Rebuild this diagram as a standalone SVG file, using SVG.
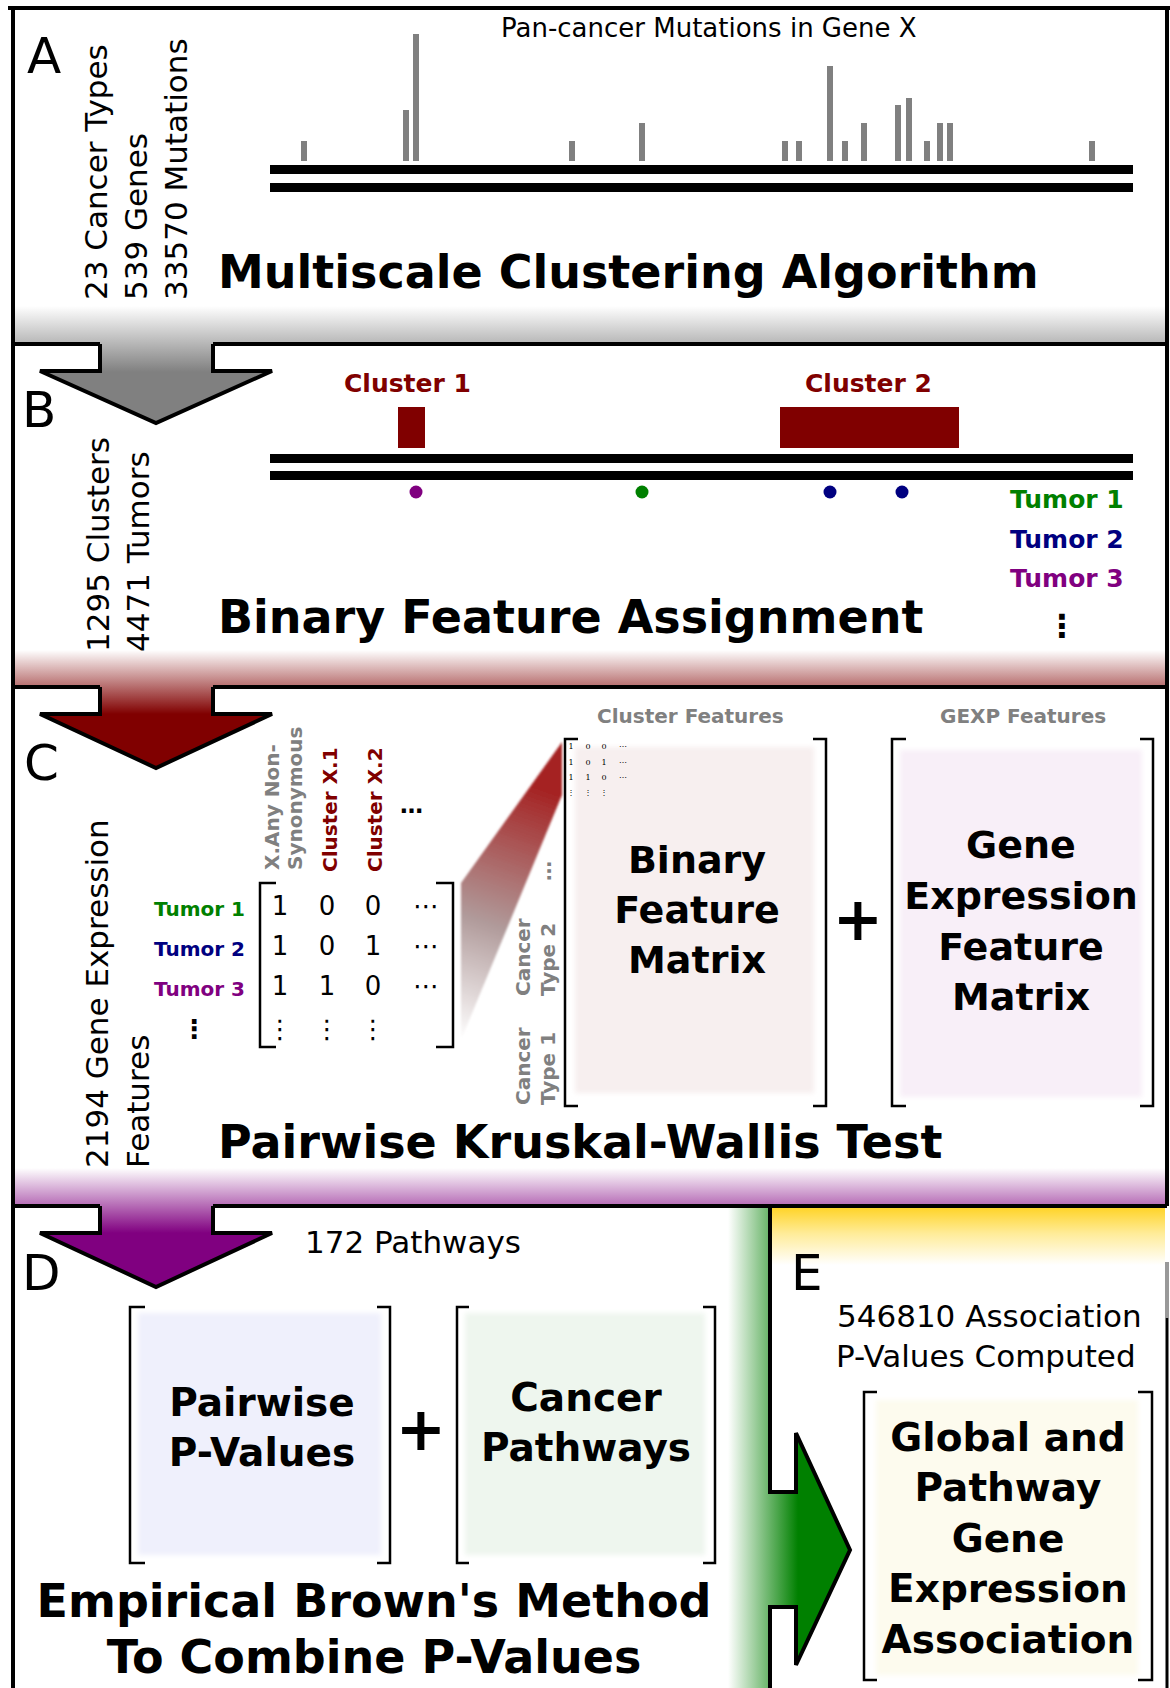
<svg xmlns="http://www.w3.org/2000/svg" width="1170" height="1688" viewBox="0 0 1170 1688">
<defs>
  <linearGradient id="gA" gradientUnits="userSpaceOnUse" x1="0" y1="306" x2="0" y2="372"><stop offset="0" stop-color="#ffffff"/><stop offset="1" stop-color="#808080"/></linearGradient>
  <linearGradient id="gB" gradientUnits="userSpaceOnUse" x1="0" y1="650" x2="0" y2="714"><stop offset="0" stop-color="#ffffff"/><stop offset="1" stop-color="#800000"/></linearGradient>
  <linearGradient id="gC" gradientUnits="userSpaceOnUse" x1="0" y1="1168" x2="0" y2="1233"><stop offset="0" stop-color="#ffffff"/><stop offset="1" stop-color="#800080"/></linearGradient>
  <linearGradient id="gD" gradientUnits="userSpaceOnUse" x1="728" y1="0" x2="798" y2="0"><stop offset="0" stop-color="#ffffff"/><stop offset="1" stop-color="#008000"/></linearGradient>
  <linearGradient id="gE" gradientUnits="userSpaceOnUse" x1="0" y1="1208" x2="0" y2="1265"><stop offset="0" stop-color="#ffd42a"/><stop offset="0.45" stop-color="#ffec99"/><stop offset="1" stop-color="#ffffff"/></linearGradient>
  <linearGradient id="gW" gradientUnits="userSpaceOnUse" x1="461" y1="1040" x2="548" y2="790"><stop offset="0" stop-color="#ffffff"/><stop offset="0.45" stop-color="#b09a9a"/><stop offset="1" stop-color="#a52222"/></linearGradient>
  <filter id="soft" x="-5%" y="-5%" width="110%" height="110%"><feGaussianBlur stdDeviation="2.5"/></filter>
  <filter id="soft1" x="-5%" y="-5%" width="110%" height="110%"><feGaussianBlur stdDeviation="1.2"/></filter>
</defs>
<style>
  text{font-family:'DejaVu Sans',Verdana,sans-serif;fill:#000}
  .b{font-weight:bold}
  .lbl{font-size:50px}
  .vt{font-size:31px}
  .ttl{font-size:46px;font-weight:bold}
  .box{font-size:38px;font-weight:bold;text-anchor:middle}
  .box39{font-size:39px;font-weight:bold;text-anchor:middle}
  .hdr{font-size:20px;font-weight:bold}
  .mx{font-size:26px;text-anchor:middle}
  .tiny{font-family:'DejaVu Serif','Liberation Serif',serif;font-size:8px;text-anchor:middle}
  .plus{font-size:60px;font-weight:bold;text-anchor:middle}
  .frame{stroke:#000;stroke-width:4;fill:none}
  .arr{stroke:#000;stroke-width:4;fill:none;stroke-linejoin:miter}
  .br{stroke:#000;stroke-width:2.5;fill:none}
  .gray{fill:#808080}
  .red{fill:#800000}
  .grn{fill:#008000}
  .blu{fill:#000080}
  .pur{fill:#800080}
  .bar{fill:#808080}
  .gene{fill:#000}
</style>
<rect x="0" y="0" width="1170" height="1688" fill="#ffffff"/>

<!-- gradient bands -->
<g id="bands">
  <rect x="15" y="300" width="1150" height="44" fill="url(#gA)"/>
  <rect x="15" y="645" width="1150" height="42" fill="url(#gB)"/>
  <rect x="15" y="1160" width="1150" height="46" fill="url(#gC)"/>
  <rect x="720" y="1208" width="50" height="480" fill="url(#gD)"/>
  <rect x="772" y="1208" width="393" height="60" fill="url(#gE)"/>
</g>

<!-- frame -->
<g id="frame">
  <path class="frame" d="M8,8 H1170 M13,8 V1688 M1167,8 V1206"/>
  <path class="frame" d="M13,344 H100 M213,344 H1167 M13,687 H100 M213,687 H1167 M13,1206 H100 M213,1206 H1167"/>
  <path d="M1167,1262 V1318" stroke="#999" stroke-width="4"/>
  <path d="M1167,1318 V1688" stroke="#000" stroke-width="3"/>
</g>

<!-- Panel A -->
<g id="panelA">
  <text class="lbl" x="27" y="73">A</text>
  <text class="vt" transform="translate(107,300) rotate(-90)">23 Cancer Types</text>
  <text class="vt" transform="translate(147,300) rotate(-90)">539 Genes</text>
  <text class="vt" transform="translate(187,300) rotate(-90)">33570 Mutations</text>
  <text x="501" y="37" font-size="26">Pan-cancer Mutations in Gene X</text>
  <g class="bar">
    <rect x="301" y="141" width="6" height="20"/>
    <rect x="403" y="110" width="6" height="51"/>
    <rect x="413" y="34" width="6" height="127"/>
    <rect x="569" y="141" width="6" height="20"/>
    <rect x="639" y="123" width="6" height="38"/>
    <rect x="782" y="141" width="6" height="20"/>
    <rect x="796" y="141" width="6" height="20"/>
    <rect x="827" y="66" width="6" height="95"/>
    <rect x="842" y="141" width="6" height="20"/>
    <rect x="861" y="123" width="6" height="38"/>
    <rect x="895" y="105" width="6" height="56"/>
    <rect x="906" y="98" width="6" height="63"/>
    <rect x="924" y="141" width="6" height="20"/>
    <rect x="937" y="123" width="6" height="38"/>
    <rect x="947" y="123" width="6" height="38"/>
    <rect x="1089" y="141" width="6" height="20"/>
  </g>
  <rect class="gene" x="270" y="165" width="863" height="9"/>
  <rect class="gene" x="270" y="183" width="863" height="9"/>
  <text class="ttl" x="218" y="288">Multiscale Clustering Algorithm</text>
</g>

<!-- Panel B -->
<g id="panelB">
  <text class="lbl" x="22" y="427">B</text>
  <text class="vt" transform="translate(109,652) rotate(-90)">1295 Clusters</text>
  <text class="vt" transform="translate(149,652) rotate(-90)">4471 Tumors</text>
  <text class="b red" x="344" y="392" font-size="25">Cluster 1</text>
  <text class="b red" x="805" y="392" font-size="25">Cluster 2</text>
  <rect class="red" x="398" y="407" width="27" height="41"/>
  <rect class="red" x="780" y="407" width="179" height="41"/>
  <rect class="gene" x="270" y="454" width="863" height="9"/>
  <rect class="gene" x="270" y="471" width="863" height="9"/>
  <circle class="pur" cx="416" cy="492" r="6.5"/>
  <circle class="grn" cx="642" cy="492" r="6.5"/>
  <circle class="blu" cx="830" cy="492" r="6.5"/>
  <circle class="blu" cx="902" cy="492" r="6.5"/>
  <text class="b grn" x="1010" y="508" font-size="25">Tumor 1</text>
  <text class="b blu" x="1010" y="548" font-size="25">Tumor 2</text>
  <text class="b pur" x="1010" y="587" font-size="25">Tumor 3</text>
  <text class="b" x="1062" y="637" font-size="32" text-anchor="middle">⋮</text>
  <text class="ttl" x="218" y="633">Binary Feature Assignment</text>
</g>

<!-- Panel C -->
<g id="panelC">
  <text class="lbl" x="24" y="780">C</text>
  <text class="vt" transform="translate(108,1168) rotate(-90)">2194 Gene Expression</text>
  <text class="vt" transform="translate(149,1168) rotate(-90)">Features</text>
  <text class="hdr gray" transform="translate(279,870) rotate(-90)">X.Any Non-</text>
  <text class="hdr gray" transform="translate(302,870) rotate(-90)">Synonymous</text>
  <text class="hdr red" transform="translate(337,872) rotate(-90)">Cluster X.1</text>
  <text class="hdr red" transform="translate(382,872) rotate(-90)">Cluster X.2</text>
  <text class="b" x="400" y="813" font-size="23">…</text>
  <text class="hdr grn" x="154" y="916">Tumor 1</text>
  <text class="hdr blu" x="154" y="956">Tumor 2</text>
  <text class="hdr pur" x="154" y="996">Tumor 3</text>
  <text class="b" x="194" y="1038" font-size="26" text-anchor="middle">⋮</text>
  <path class="br" d="M276,883 H260 V1047 H276 M436,883 H453 V1047 H436"/>
  <g class="mx">
    <text class="mx" x="280" y="915">1</text><text class="mx" x="327" y="915">0</text><text class="mx" x="373" y="915">0</text><text class="mx" x="426" y="915">⋯</text>
    <text class="mx" x="280" y="955">1</text><text class="mx" x="327" y="955">0</text><text class="mx" x="373" y="955">1</text><text class="mx" x="426" y="955">⋯</text>
    <text class="mx" x="280" y="995">1</text><text class="mx" x="327" y="995">1</text><text class="mx" x="373" y="995">0</text><text class="mx" x="426" y="995">⋯</text>
    <text class="mx" x="280" y="1038" font-size="30">⋮</text><text class="mx" x="327" y="1038" font-size="30">⋮</text><text class="mx" x="373" y="1038" font-size="30">⋮</text>
  </g>
  <polygon points="461,883 562,742 562,795 461,1040" fill="url(#gW)" filter="url(#soft1)"/>
  <text class="hdr gray" x="597" y="723">Cluster Features</text>
  <text class="hdr gray" x="940" y="723">GEXP Features</text>
  <rect x="575" y="747" width="239" height="346" fill="#f7efef" filter="url(#soft)"/>
  <rect x="900" y="750" width="242" height="347" fill="#f8eff8" filter="url(#soft)"/>
  <path class="br" d="M578,739 H565 V1106 H578 M813,739 H826 V1106 H813"/>
  <path class="br" d="M906,739 H892 V1106 H906 M1140,739 H1153 V1106 H1140"/>
  <g>
    <text class="tiny" x="571" y="749">1</text><text class="tiny" x="588" y="749">0</text><text class="tiny" x="604" y="749">0</text><text class="tiny" x="623" y="749">⋯</text>
    <text class="tiny" x="571" y="765">1</text><text class="tiny" x="588" y="765">0</text><text class="tiny" x="604" y="765">1</text><text class="tiny" x="623" y="765">⋯</text>
    <text class="tiny" x="571" y="780">1</text><text class="tiny" x="588" y="780">1</text><text class="tiny" x="604" y="780">0</text><text class="tiny" x="623" y="780">⋯</text>
    <text class="tiny" x="571" y="795">⋮</text><text class="tiny" x="588" y="795">⋮</text><text class="tiny" x="604" y="795">⋮</text>
  </g>
  <text class="hdr gray" font-size="21" transform="translate(530,1105) rotate(-90)">Cancer</text>
  <text class="hdr gray" font-size="21" transform="translate(555,1105) rotate(-90)">Type 1</text>
  <text class="hdr gray" font-size="21" transform="translate(530,996) rotate(-90)">Cancer</text>
  <text class="hdr gray" font-size="21" transform="translate(555,996) rotate(-90)">Type 2</text>
  <text class="hdr gray" transform="translate(551,881) rotate(-90)">…</text>
  <text class="box" x="697" y="873">Binary</text>
  <text class="box" x="697" y="923">Feature</text>
  <text class="box" x="697" y="973">Matrix</text>
  <text class="plus" x="858" y="940">+</text>
  <text class="box" x="1021" y="858">Gene</text>
  <text class="box" x="1021" y="909">Expression</text>
  <text class="box" x="1021" y="960">Feature</text>
  <text class="box" x="1021" y="1010">Matrix</text>
  <text class="ttl" x="218" y="1158">Pairwise Kruskal-Wallis Test</text>
</g>

<!-- Panel D -->
<g id="panelD">
  <text class="lbl" x="22" y="1290">D</text>
  <text class="vt" x="305" y="1253">172 Pathways</text>
  <rect x="138" y="1313" width="243" height="242" fill="#eff0fc" filter="url(#soft)"/>
  <rect x="465" y="1313" width="240" height="242" fill="#eef6ee" filter="url(#soft)"/>
  <path class="br" d="M145,1307 H130 V1563 H145 M377,1307 H390 V1563 H377"/>
  <path class="br" d="M469,1307 H457 V1563 H469 M703,1307 H715 V1563 H703"/>
  <text class="box39" x="262" y="1416">Pairwise</text>
  <text class="box39" x="262" y="1466">P-Values</text>
  <text class="plus" x="421" y="1450">+</text>
  <text class="box39" x="586" y="1411">Cancer</text>
  <text class="box39" x="586" y="1461">Pathways</text>
  <text class="ttl" x="374" y="1617" text-anchor="middle">Empirical Brown's Method</text>
  <text class="ttl" x="374" y="1673" text-anchor="middle">To Combine P-Values</text>
</g>

<!-- Panel E -->
<g id="panelE">
  <text class="lbl" x="791" y="1290">E</text>
  <text class="vt" x="837" y="1327">546810 Association</text>
  <text class="vt" x="836" y="1367">P-Values Computed</text>
  <rect x="876" y="1400" width="262" height="275" fill="#fdfbee" filter="url(#soft)"/>
  <path class="br" d="M877,1392 H864 V1680 H877 M1138,1392 H1152 V1680 H1138"/>
  <text class="box39" x="1008" y="1451">Global and</text>
  <text class="box39" x="1008" y="1501">Pathway</text>
  <text class="box39" x="1008" y="1552">Gene</text>
  <text class="box39" x="1008" y="1602">Expression</text>
  <text class="box39" x="1008" y="1653">Association</text>
</g>

<!-- connectors (flow arrows) -->
<g id="connectors">
  <polygon points="100,342 213,342 213,371 272,371 156,423 40,371 100,371" fill="url(#gA)"/>
  <path class="arr" d="M100,344 V371 H40 L156,423 L272,371 H213 V344"/>
  <polygon points="100,685 213,685 213,714 272,714 156,768 40,714 100,714" fill="url(#gB)"/>
  <path class="arr" d="M100,687 V714 H40 L156,768 L272,714 H213 V687"/>
  <polygon points="100,1204 213,1204 213,1233 272,1233 156,1287 40,1233 100,1233" fill="url(#gC)"/>
  <path class="arr" d="M100,1206 V1233 H40 L156,1287 L272,1233 H213 V1206"/>
  <polygon points="768,1492 796,1492 796,1433 850,1550 796,1665 796,1607 768,1607" fill="url(#gD)"/>
  <path class="arr" d="M770,1206 V1492 H796 V1433 L850,1550 L796,1665 V1607 H770 V1688"/>
</g>
</svg>
